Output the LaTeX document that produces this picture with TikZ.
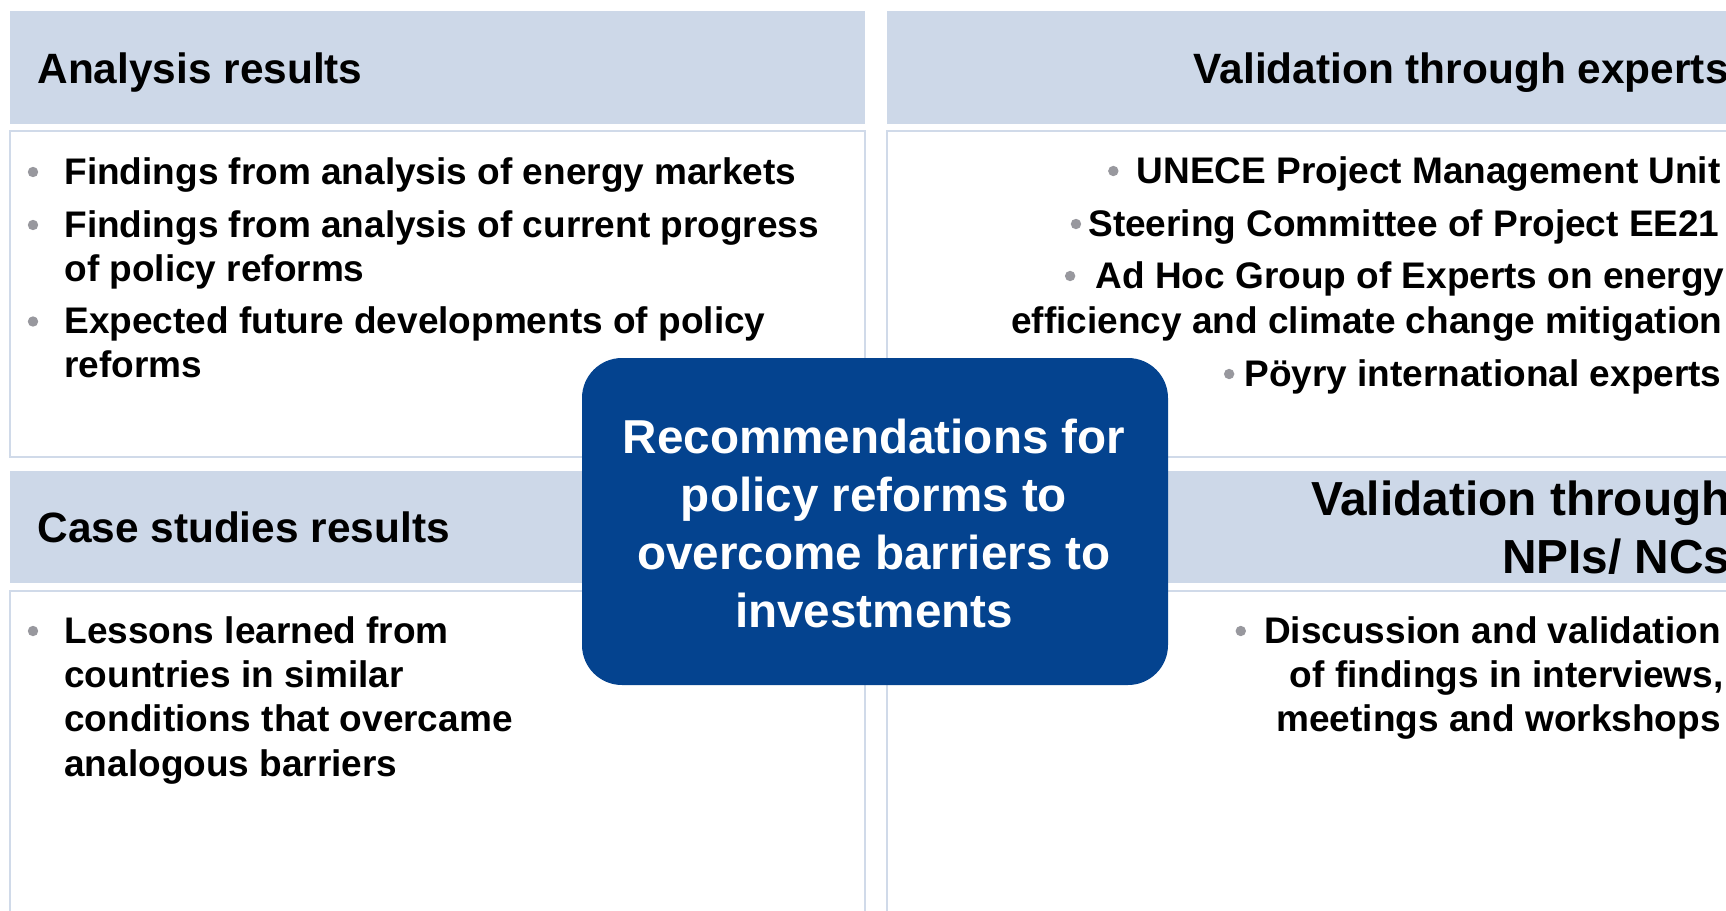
\documentclass[tikz,border=0pt]{standalone}
\usepackage{fontspec}
\setmainfont{Liberation Sans}
\usetikzlibrary{calc}
\definecolor{hdrfill}{RGB}{205,216,232}
\definecolor{bodyline}{RGB}{208,218,233}
\definecolor{recblue}{RGB}{4,67,143}
\definecolor{bulgray}{RGB}{152,152,158}
\tikzset{
  hdrtext/.style={inner sep=0pt, font=\fontsize{21.2pt}{25pt}\selectfont\bfseries},
  bigtext/.style={inner sep=0pt, font=\fontsize{23.9pt}{29pt}\selectfont\bfseries},
  bodytext/.style={inner sep=0pt, font=\fontsize{18.5pt}{22pt}\selectfont\bfseries},
  rectext/.style={inner sep=0pt, text=white, font=\fontsize{23.8pt}{29pt}\selectfont\bfseries},
  hdrbox/.style={fill=hdrfill},
  bodybox/.style={draw=bodyline, line width=0.75pt, fill=white},
  bul/.style={fill=bulgray},
  recbox/.style={fill=recblue, rounded corners=20pt, minimum width=293pt, minimum height=163.5pt, inner sep=0pt}
}
\begin{document}
\begin{tikzpicture}[x=0.5pt,y=-0.5pt]
\useasboundingbox (0,0) rectangle (1726,911);
% column boxes
\fill[hdrbox] (10,11) rectangle (865,124);
\fill[hdrbox] (887,11) rectangle (1740,124);
\draw[bodybox] (10,131) rectangle (865,457);
\draw[bodybox] (887,131) rectangle (1740,457);
\fill[hdrbox] (10,471) rectangle (865,583);
\fill[hdrbox] (887,471) rectangle (1740,583);
\draw[bodybox] (10,591) rectangle (865,930);
\draw[bodybox] (887,591) rectangle (1740,930);
% headers
\node[hdrtext, anchor=base west] (h1) at (37,83) {Analysis results};
\node[hdrtext, anchor=base east] (h2) at (1729,83) {Validation through experts};
\node[hdrtext, anchor=base west] (h3) at (37,542) {Case studies results};
\node[bigtext, anchor=base east] (h4a) at (1731,515) {Validation through};
\node[bigtext, anchor=base east] (h4b) at (1731,573) {NPIs/ NCs};
% top left body
\node[bodytext, anchor=base west] (a1) at (64,184) {Findings from analysis of energy markets};
\node[bodytext, anchor=base west] (a2) at (64,237) {Findings from analysis of current progress};
\node[bodytext, anchor=base west] (a3) at (64,281) {of policy reforms};
\node[bodytext, anchor=base west] (a4) at (64,333.5) {Expected future developments of policy};
\node[bodytext, anchor=base west] (a5) at (64,377.5) {reforms};
\fill[bul] (33,172) circle (2.6pt);
\fill[bul] (33,225) circle (2.6pt);
\fill[bul] (33,321.5) circle (2.6pt);
% top right body
\node[bodytext, anchor=base east] (b1) at (1721,183) {UNECE Project Management Unit};
\node[bodytext, anchor=base east] (b2) at (1720,236) {Steering Committee of Project EE21};
\node[bodytext, anchor=base east] (b3) at (1725,288) {Ad Hoc Group of Experts on energy};
\node[bodytext, anchor=base east] (b4) at (1723,333) {efficiency and climate change mitigation};
\node[bodytext, anchor=base east] (b5) at (1722,386) {Pöyry international experts};
\fill[bul] ($(b1.base west)+(-23,-12)$) circle (2.6pt);
\fill[bul] ($(b2.base west)+(-12,-12)$) circle (2.6pt);
\fill[bul] ($(b3.base west)+(-25,-12)$) circle (2.6pt);
\fill[bul] ($(b5.base west)+(-15,-12)$) circle (2.6pt);
% bottom left body
\node[bodytext, anchor=base west] (c1) at (64,643) {Lessons learned from};
\node[bodytext, anchor=base west] (c2) at (64,687) {countries in similar};
\node[bodytext, anchor=base west] (c3) at (64,731) {conditions that overcame};
\node[bodytext, anchor=base west] (c4) at (64,776) {analogous barriers};
\fill[bul] (33,631) circle (2.6pt);
% bottom right body
\node[bodytext, anchor=base east] (d1) at (1721,643) {Discussion and validation};
\node[bodytext, anchor=base east] (d2) at (1724,687) {of findings in interviews,};
\node[bodytext, anchor=base east] (d3) at (1721,731) {meetings and workshops};
\fill[bul] ($(d1.base west)+(-23,-12)$) circle (2.6pt);
% central box
\node[recbox] (rec) at (875,521.5) {};
\node[rectext, anchor=base] (r1) at (874,453) {Recommendations for};
\node[rectext, anchor=base] (r2) at (874,511) {policy reforms to};
\node[rectext, anchor=base] (r3) at (874,569) {overcome barriers to};
\node[rectext, anchor=base] (r4) at (874,627) {investments};
\end{tikzpicture}
\end{document}
